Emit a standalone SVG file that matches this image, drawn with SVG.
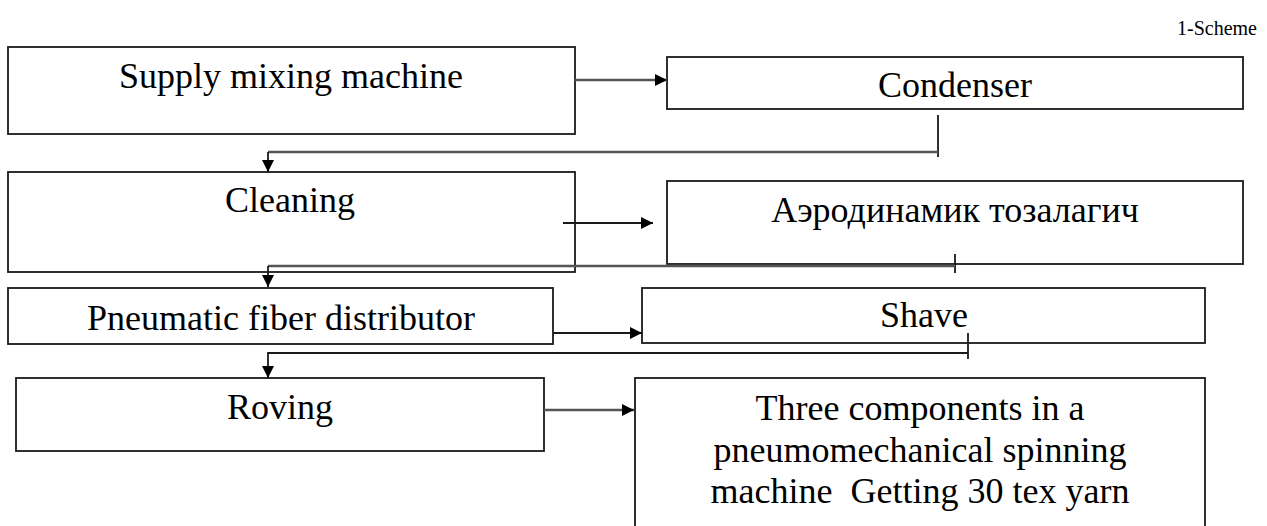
<svg xmlns="http://www.w3.org/2000/svg" width="1267" height="526" viewBox="0 0 1267 526">
<style>
.box{fill:#fff;stroke:#1a1a1a;stroke-width:1.8}
.t{font-family:"Liberation Serif","Times New Roman",serif;font-size:36px;fill:#000;text-anchor:middle;white-space:pre}
.c{fill:none;stroke:#1a1a1a;stroke-width:1.8}
.g{fill:none;stroke:#555;stroke-width:2.6}
</style>
<defs>
<marker id="ah" markerUnits="userSpaceOnUse" markerWidth="14" markerHeight="12" refX="12" refY="6" orient="auto">
<path d="M0,0 L12,6 L0,12 Z" fill="#000"/>
</marker>
</defs>
<rect width="1267" height="526" fill="#fff"/>
<text x="1257" y="35" style="font-family:'Liberation Serif','Times New Roman',serif;font-size:20px;text-anchor:end">1-Scheme</text>
<g id="n1"><rect class="box" x="8" y="47" width="567" height="87"/><text class="t" x="291" y="88">Supply mixing machine</text></g>
<g id="n2"><rect class="box" x="667" y="57" width="576" height="52"/><text class="t" x="955" y="97">Condenser</text></g>
<g id="n3"><rect class="box" x="8" y="172" width="567" height="100"/><text class="t" x="290" y="212">Cleaning</text></g>
<g id="n4"><rect class="box" x="667" y="181" width="576" height="83"/><text class="t" x="955" y="222">Аэродинамик тозалагич</text></g>
<g id="n5"><rect class="box" x="8" y="288" width="545" height="56"/><text class="t" x="281" y="330">Pneumatic fiber distributor</text></g>
<g id="n6"><rect class="box" x="642" y="288" width="563" height="55"/><text class="t" x="924" y="327">Shave</text></g>
<g id="n7"><rect class="box" x="16" y="378" width="528" height="73"/><text class="t" x="280" y="419">Roving</text></g>
<g id="n8"><rect class="box" x="635" y="378" width="570" height="170"/><text class="t" x="920" y="420">Three components in a</text><text class="t" x="920" y="462">pneumomechanical spinning</text><text class="t" x="920" y="503" xml:space="preserve">machine  Getting 30 tex yarn</text></g>
<g id="connectors">
<path class="g" d="M575,80 H667" marker-end="url(#ah)"/>
<path class="c" d="M938,115 V157"/>
<path class="g" d="M938,152 H268"/>
<path class="c" d="M268,152 V172" marker-end="url(#ah)"/>
<path class="c" d="M563,223 H653" marker-end="url(#ah)"/>
<path class="c" d="M955,254 V273"/>
<path class="g" d="M955,266 H268"/>
<path class="c" d="M268,266 V287" marker-end="url(#ah)"/>
<path class="c" d="M553,333 H642" marker-end="url(#ah)"/>
<path class="c" d="M968,333 V359"/>
<path class="c" d="M968,353 H268 V378" marker-end="url(#ah)"/>
<path class="g" d="M544,410 H634" marker-end="url(#ah)"/>
</g>
</svg>
